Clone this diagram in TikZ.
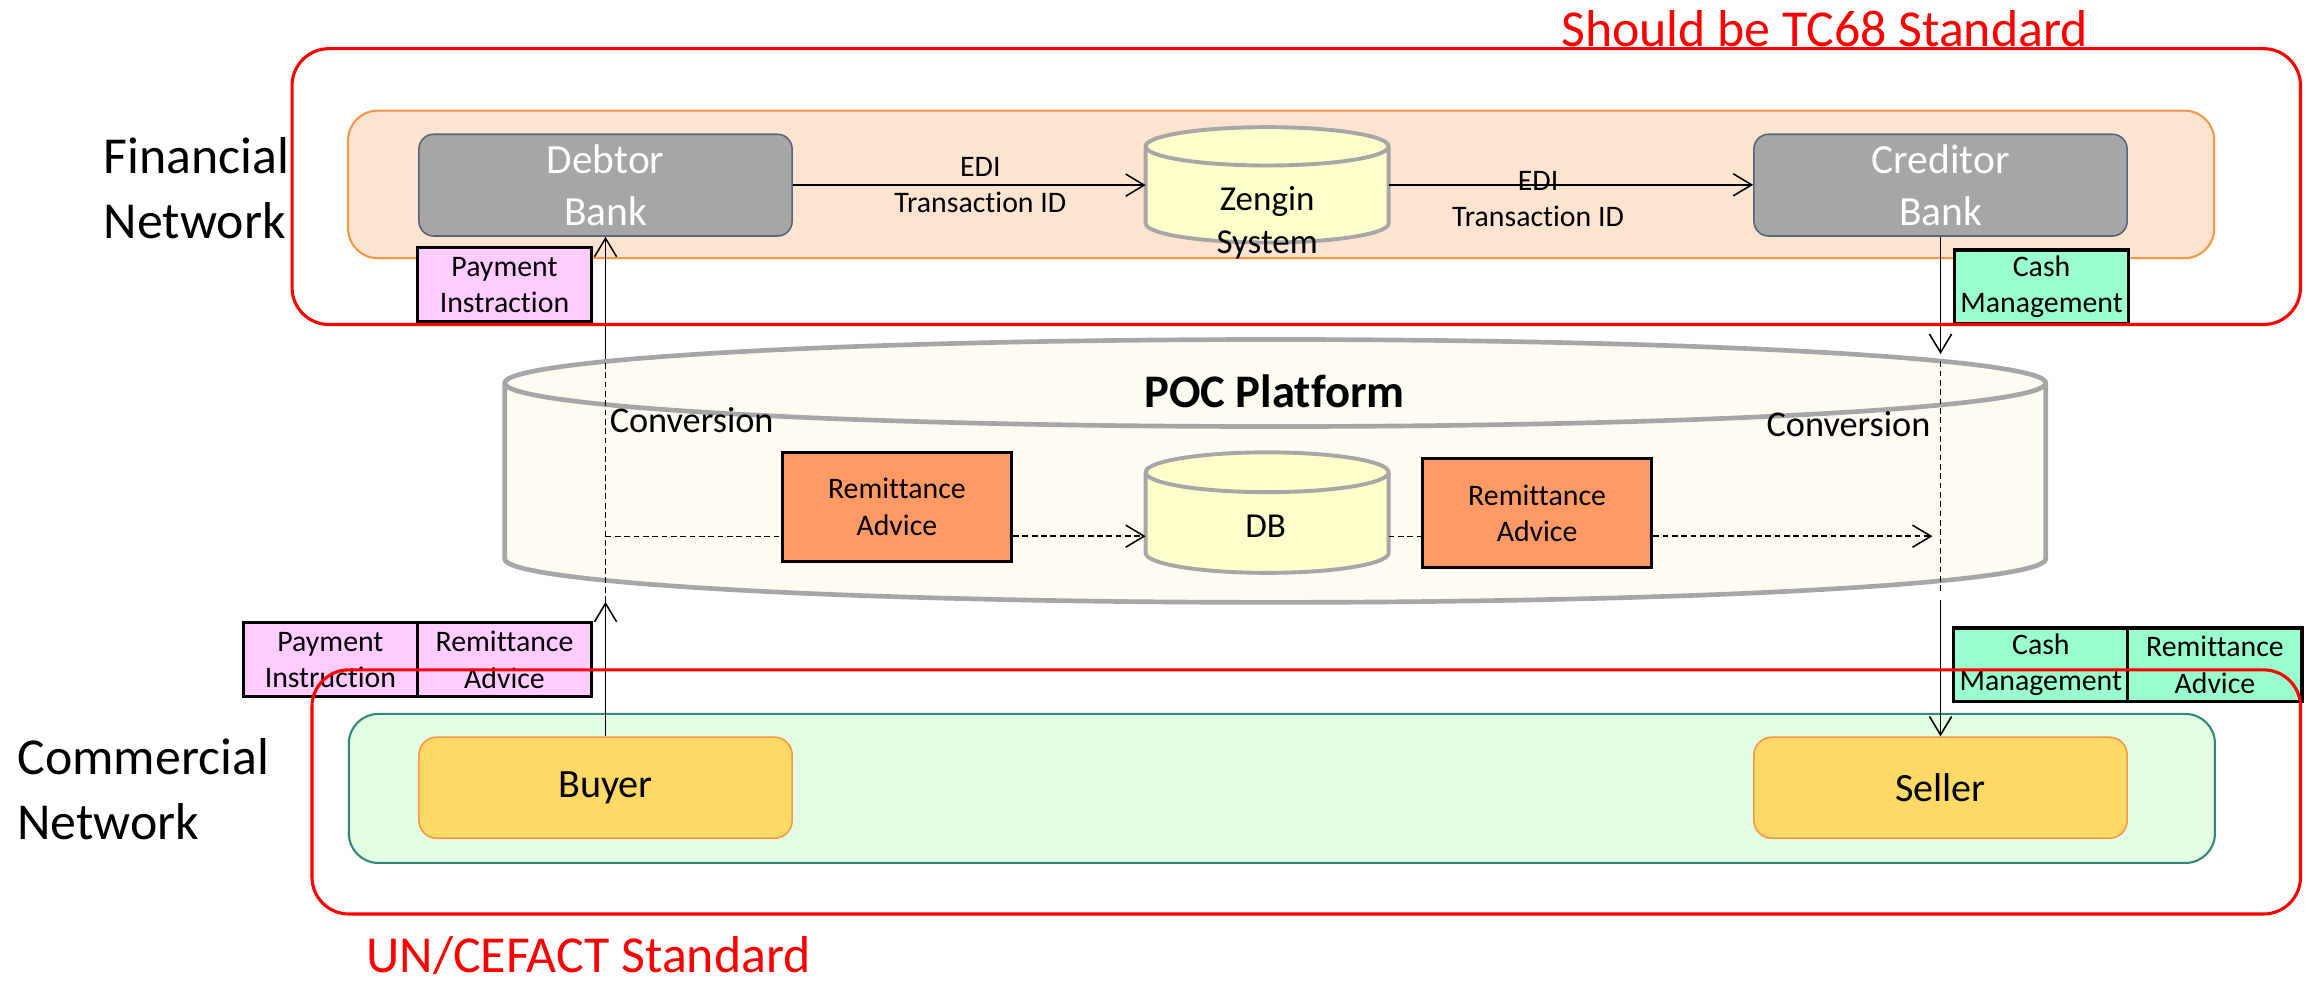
\documentclass[tikz,border=0pt]{standalone}
\usepackage{fontspec}
\setmainfont{Carlito}[Ligatures=NoCommon]
\usepackage{tikz}
\usepackage{xcolor}
\usetikzlibrary{positioning, arrows.meta, calc, backgrounds}
\definecolor{peachfill}{RGB}{253, 228, 208}
\definecolor{peachline}{RGB}{247, 150, 70}
\definecolor{bankgray}{RGB}{166, 166, 166}
\definecolor{bankline}{RGB}{88, 100, 122}
\definecolor{drumfill}{RGB}{255, 255, 204}
\definecolor{drumline}{RGB}{166, 166, 166}
\definecolor{pocfill}{RGB}{254, 251, 242}
\definecolor{pinkdoc}{RGB}{255, 204, 255}
\definecolor{mintdoc}{RGB}{153, 255, 204}
\definecolor{remitorange}{RGB}{255, 153, 102}
\definecolor{palegreen}{RGB}{227, 253, 227}
\definecolor{tealline}{RGB}{49, 135, 122}
\definecolor{partyyellow}{RGB}{255, 217, 102}
\definecolor{partyline}{RGB}{247, 150, 70}

% drum (database) outline around an empty node: #1 node, #2 cap radius, #3 colours
\newcommand{\drawdrum}[3]{%
  \path[#3] let \p1=(#1.north west), \p2=(#1.south east) in
    (\x1,\y1-#2) -- (\x1,\y2+#2)
    arc[start angle=180, end angle=360, x radius={(\x2-\x1)/2}, y radius=#2]
    -- (\x2,\y1-#2)
    arc[start angle=0, end angle=180, x radius={(\x2-\x1)/2}, y radius=#2]
    -- cycle
    (\x1,\y1-#2)
    arc[start angle=180, end angle=360, x radius={(\x2-\x1)/2}, y radius=#2];
}

\begin{document}
\begin{tikzpicture}[
    x=0.2mm, y=-0.2mm, % one unit = one pixel of the sketch, y grows downward
    font=\fontsize{11.5}{14}\selectfont,
    % Red network frames
    network/.style={
        rectangle,
        rounded corners=5mm,
        draw=red,
        line width=1.2pt
    },
    % Coloured band behind the actors
    area/.style={
        rectangle,
        rounded corners=4mm,
        minimum width=253mm,
        minimum height=20mm
    },
    bank/.style={
        rectangle,
        rounded corners=2mm,
        minimum width=50.6mm,
        minimum height=13.8mm,
        fill=bankgray,
        draw=bankline,
        line width=0.6pt,
        text=white,
        align=center,
        font=\fontsize{16}{20}\selectfont
    },
    party/.style={
        rectangle,
        rounded corners=2.4mm,
        minimum width=50.6mm,
        minimum height=13.7mm,
        fill=partyyellow,
        draw=partyline,
        line width=0.6pt,
        font=\fontsize{15.5}{19}\selectfont
    },
    % Message documents, takes fill color as argument
    doc/.style={
        rectangle,
        minimum width=23.6mm,
        minimum height=10mm,
        inner sep=0pt,
        fill=#1,
        draw=black,
        line width=1.2pt,
        align=center
    },
    remit/.style={
        rectangle,
        minimum width=31.1mm,
        minimum height=14.8mm,
        fill=remitorange,
        draw=black,
        line width=1.2pt,
        align=center
    },
    drumbox/.style={rectangle, inner sep=0pt},
    drumtext/.style={align=center, font=\fontsize{13.5}{16.5}\selectfont},
    % Arrow styles
    flow/.style={
        -{Straight Barb[length=2.5mm, width=3mm]},
        line width=0.6pt
    },
    conv/.style={dash pattern=on 2.2pt off 1.4pt, line width=0.5pt},
    title/.style={font=\fontsize{20}{25}\selectfont, align=left, inner sep=0pt},
    standard/.style={font=\fontsize{20}{25}\selectfont, text=red, inner sep=0pt}
]
\useasboundingbox (0,0) rectangle (1568,668);

% Background bands
\node[area, fill=peachfill, draw=peachline, line width=0.8pt] (finarea) at (868.5,125) {};
\node[area, fill=palegreen, draw=tealline, line width=0.8pt, minimum height=20.2mm] (comarea) at (869,534.5) {};

% POC platform drum
\node[drumbox, minimum width=208.8mm, minimum height=35.5mm] (poc) at (864.5,319.25) {};
\drawdrum{poc}{5.9mm}{fill=pocfill, draw=drumline, line width=1.8pt}
\node[font=\fontsize{18}{22}\selectfont\bfseries, anchor=base] (poctext) at (864,276) {POC Platform};

% Banks and parties
\node[bank] (debtor) at (410.5,125.5) {Debtor\\Bank};
\node[bank] (creditor) at (1315.5,125.5) {Creditor\\Bank};
\node[party] (buyer) at (410.5,534) {Buyer};
\node[party] (seller) at (1315.5,534) {Seller};

% Zengin and DB drums
\node[drumbox, minimum width=32.8mm, minimum height=15.5mm] (zengin) at (859,125.3) {};
\drawdrum{zengin}{2.6mm}{fill=drumfill, draw=drumline, line width=1.5pt}
\node[drumtext] (zengintext) at (859,151) {Zengin\\System};
\node[drumbox, minimum width=32.8mm, minimum height=16.2mm] (db) at (859,347.5) {};
\drawdrum{db}{2.7mm}{fill=drumfill, draw=drumline, line width=1.5pt}
\node[drumtext] (dbtext) at (858,357) {DB};

% Remittance advice inside the platform
\node[remit] (remit1) at (608,343.5) {Remittance\\Advice};
\node[remit] (remit2) at (1042,348) {Remittance\\Advice};

% Conversion points
\coordinate (ltop) at (410.5,241);
\coordinate (lbot) at (410.5,408);
\coordinate (lmid) at (410.5,363.5);
\coordinate (rtop) at (1315.5,240);
\coordinate (rbot) at (1315.5,407);
\coordinate (rmid) at (1315.5,363.5);

% EDI flow between banks
\draw[flow] (debtor.east) -- (debtor.east -| zengin.west)
    node[midway, align=center, font=\fontsize{11.5}{14}\selectfont, xshift=1.5mm] (edi1) {EDI\\Transaction ID};
\draw[flow] (zengin.east) -- (zengin.east -| creditor.west)
    node[pos=0.41, align=center, font=\fontsize{11.5}{14}\selectfont, yshift=-1.9mm] (edi2) {EDI\\Transaction ID};

% Vertical flows through the platform
\draw[flow] (buyer.north) -- (lbot);
\draw[conv] (lbot) -- (ltop);
\draw[flow] (ltop) -- (debtor.south);
\draw[flow] (creditor.south) -- (rtop);
\draw[conv] ([yshift=-1mm]rtop) -- ([yshift=1mm]rbot);
\draw[flow] (rbot) -- (seller.north);

% Remittance advice flow
\draw[conv] (lmid) -- (lmid -| remit1.west);
\draw[conv, flow] (lmid -| remit1.east) -- (lmid -| db.west);
\draw[conv] (lmid -| db.east) -- (lmid -| remit2.west);
\draw[conv, flow] (lmid -| remit2.east) -- ([xshift=-1.1mm]rmid);

\node[font=\fontsize{14}{17}\selectfont, anchor=base west, inner sep=0pt] (conv1) at (413,293) {Conversion};
\node[font=\fontsize{14}{17}\selectfont, anchor=base east, inner sep=0pt] (conv2) at (1309,296) {Conversion};

% Messages
\node[doc=pinkdoc] (payins1) at (342,193) {Payment\\Instraction};
\node[doc=mintdoc] (cash1) at (1384,194.5) {Cash\\Management};
\node[doc=pinkdoc] (payins2) at (224,447.25) {Payment\\Instruction};
\node[doc=pinkdoc, right=-1.2pt of payins2] (remadv1) {Remittance\\Advice};
\node[doc=mintdoc] (cash2) at (1383.5,450.75) {Cash\\Management};
\node[doc=mintdoc, right=-1.2pt of cash2] (remadv2) {Remittance\\Advice};

% Network frames
\node[network, minimum width=272.3mm, minimum height=37.4mm] (finnet) at (878.75,126.5) {};
\node[network, minimum width=269.6mm, minimum height=33.1mm] (comnet) at (885.5,536.85) {};

% Titles
\node[title, anchor=west] (fintitle) at (70,127.5) {Financial\\Network};
\node[title, anchor=west] (comtitle) at (11.5,535) {Commercial\\Network};
\node[standard, anchor=base west] (tc68) at (1058,31.6) {Should be TC68 Standard};
\node[standard, anchor=base west] (cefact) at (248,659) {UN/CEFACT Standard};

\end{tikzpicture}
\end{document}
